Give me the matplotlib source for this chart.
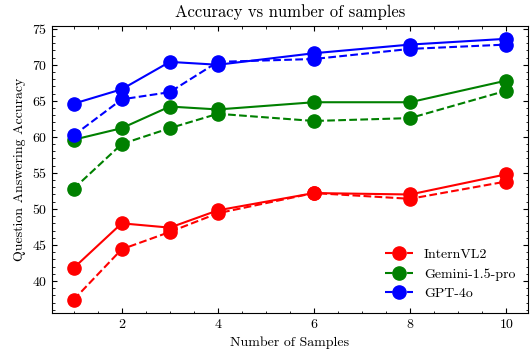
import matplotlib
matplotlib.use("Agg")
import matplotlib.pyplot as plt
from matplotlib.ticker import AutoMinorLocator

samples = [1, 2, 3, 4, 6, 8, 10]
models = ["InternVL2", "Gemini-1.5-pro", "GPT-4o"]
colors = ["red", "green", "blue"]
solid_vals = {
    "InternVL2": [41.8, 48.0, 47.4, 49.8, 52.2, 52.0, 54.8],
    "Gemini-1.5-pro": [59.6, 61.2, 64.2, 63.8, 64.8, 64.8, 67.8],
    "GPT-4o": [64.6, 66.6, 70.4, 70.0, 71.6, 72.8, 73.6],
}
dashed_vals = {
    "InternVL2": [37.4, 44.4, 46.8, 49.4, 52.2, 51.4, 53.8],
    "Gemini-1.5-pro": [52.8, 59.0, 61.2, 63.2, 62.2, 62.6, 66.4],
    "GPT-4o": [60.2, 65.2, 66.2, 70.4, 70.8, 72.2, 72.8],
}

plt.rcParams["font.family"] = ["cmr10", "DejaVu Serif"]
plt.rcParams["axes.formatter.use_mathtext"] = True
plt.rcParams["mathtext.fontset"] = "cm"

fig, ax = plt.subplots(figsize=(5.31, 3.53), dpi=100)
for m, c in zip(models, colors):
    ax.plot(samples, solid_vals[m], "-o", color=c, lw=1.5, ms=9.5)
    ax.plot(samples, dashed_vals[m], "--o", color=c, lw=1.5, ms=9.5, label=m)

ax.set_title("Accuracy vs number of samples", fontsize=12)
ax.set_xlabel("Number of Samples", fontsize=10)
ax.set_ylabel("Question Answering Accuracy", fontsize=10)
ax.set_xticks([2, 4, 6, 8, 10])
ax.xaxis.set_minor_locator(AutoMinorLocator(4))
ax.yaxis.set_minor_locator(AutoMinorLocator(5))
ax.tick_params(which="both", direction="in", top=True, right=True, labelsize=10)
ax.tick_params(which="major", length=3.5)
ax.tick_params(which="minor", length=1.8)
ax.legend(loc="lower right", frameon=False, fontsize=10)
fig.subplots_adjust(left=0.098, right=0.994, top=0.927, bottom=0.114)
fig.savefig("out.png", dpi=100)
